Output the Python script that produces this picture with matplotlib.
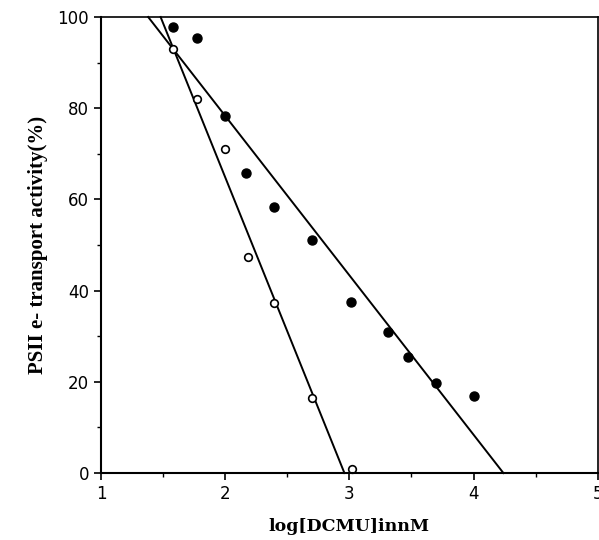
import numpy as np
import matplotlib.pyplot as plt
from matplotlib.ticker import MultipleLocator

# filled circles
x_filled = [1.58, 1.77, 2.0, 2.17, 2.39, 2.70, 3.01, 3.31, 3.47, 3.70, 4.0]
y_filled = [97.8, 95.4, 78.3, 65.8, 58.3, 51.1, 37.5, 30.9, 25.4, 19.7, 16.9]

# open circles
x_open = [1.58, 1.77, 2.0, 2.18, 2.39, 2.70, 3.02]
y_open = [93.0, 82.0, 71.0, 47.4, 37.3, 16.4, 0.8]

# regression lines (end points)
fit_filled_x = [1.38, 4.24]
fit_filled_y = [100, 0]
fit_open_x = [1.48, 2.96]
fit_open_y = [100, 0]

fig = plt.figure(figsize=(5.99, 5.40), dpi=100)
ax = fig.add_axes([0.1686, 0.124, 0.8294, 0.8445])

ax.plot(fit_filled_x, fit_filled_y, color='black', lw=1.4, clip_on=False)
ax.plot(fit_open_x, fit_open_y, color='black', lw=1.4, clip_on=False)
ax.plot(x_filled, y_filled, 'o', color='black', ms=6.5, clip_on=False)
ax.plot(x_open, y_open, 'o', mfc='white', mec='black', mew=1.2, ms=5.5, clip_on=False)

ax.set_xlim(1, 5)
ax.set_ylim(0, 100)
ax.xaxis.set_major_locator(MultipleLocator(1))
ax.xaxis.set_minor_locator(MultipleLocator(0.5))
ax.yaxis.set_major_locator(MultipleLocator(20))
ax.yaxis.set_minor_locator(MultipleLocator(10))
ax.tick_params(which='major', direction='out', length=5, width=1.2, labelsize=12)
ax.tick_params(which='minor', direction='out', length=3, width=1)

for s in ['left', 'bottom']:
    ax.spines[s].set_linewidth(1.5)
for s in ['top', 'right']:
    ax.spines[s].set_linewidth(1.2)

ax.set_xlabel('log[DCMU]innM', fontfamily='DejaVu Serif', fontweight='bold',
              fontsize=12.5, labelpad=11)
ax.set_ylabel('PSII e- transport activity(%)', fontfamily='Liberation Serif',
              fontweight='bold', fontsize=15, labelpad=7)

fig.savefig('out.png', dpi=100)
